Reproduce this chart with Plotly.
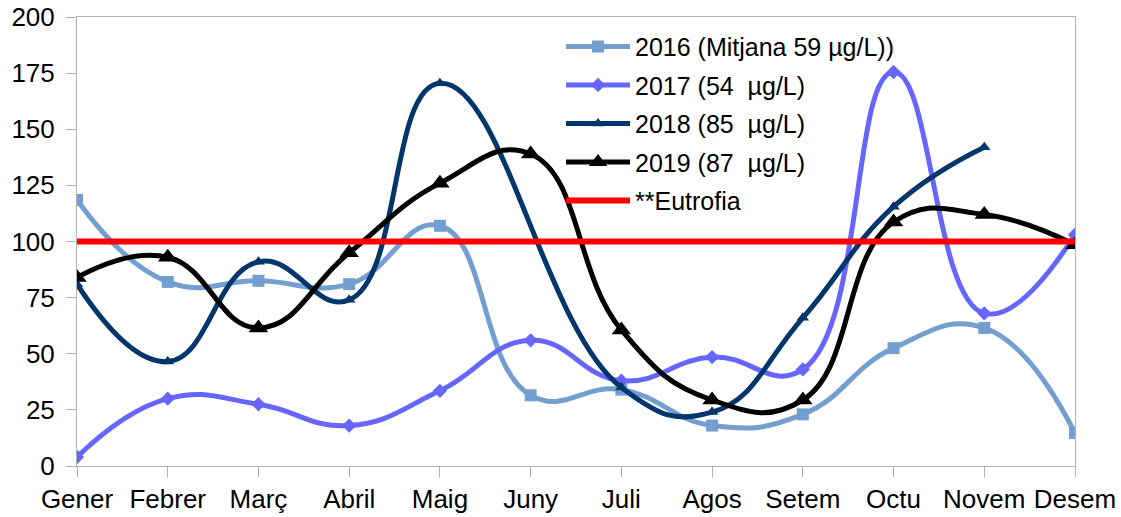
import plotly.graph_objects as go

months = ["Gener", "Febrer", "Març", "Abril", "Maig", "Juny", "Juli",
          "Agos", "Setem", "Octu", "Novem", "Desem"]

y2016 = [118.5, 82, 82.5, 81, 107, 31.5, 34, 18, 23, 52.5, 61.5, 14.7]
y2017 = [4, 30, 27.5, 18, 33.5, 56, 38, 48.5, 43, 175.5, 68, 103]
y2018 = [81, 46.5, 91, 74, 170.5, None, 35, 24, 66, 115.5, 142, None]
y2019 = [84, 93, 61.5, 95, 126, 139, 60.6, 29.4, 29.4, 108.7, 112, 98.5]
eutrofia = [100, 100, 100, 100, 100, 100, 100, 100, 100, 100, 100, 100]

names = ["2016 (Mitjana 59 µg/L))", "2017 (54  µg/L)", "2018 (85  µg/L)",
         "2019 (87  µg/L)", "**Eutrofia"]

FONT = "Liberation Sans, Arial, sans-serif"

fig = go.Figure()

series = [
    (y2016, names[0], "#729fcf", "square", 12),
    (y2017, names[1], "#6666ff", "diamond", 11),
    (y2018, names[2], "#00366b", "triangle-up", 11),
    (y2019, names[3], "#000000", "triangle-up", 17),
]
for i, (ys, nm, col, sym, sz) in enumerate(series):
    fig.add_trace(go.Scatter(
        x=months, y=ys, name=nm, mode="lines+markers",
        line=dict(color=col, width=5, shape="spline", smoothing=1.3),
        marker=dict(symbol=sym, size=sz, color=col),
        connectgaps=True, legendgroup=f"g{i}",
    ))

fig.add_trace(go.Scatter(
    x=months, y=eutrofia, name=names[4], mode="lines",
    line=dict(color="#ff0000", width=6), legendgroup="g4",
))

fig.update_layout(
    width=1121, height=517,
    margin=dict(l=77, r=46, t=17, b=51, autoexpand=False),
    paper_bgcolor="white", plot_bgcolor="white",
    font=dict(family=FONT, size=26, color="black"),
    showlegend=True,
    legend=dict(
        x=0.485, y=0.985, xanchor="left", yanchor="top",
        bgcolor="rgba(0,0,0,0)", font=dict(size=25),
        traceorder="grouped", tracegroupgap=3,
        itemwidth=64,
    ),
)
fig.update_xaxes(
    type="category", range=[0, 11], automargin=False,
    showgrid=False, showline=True, mirror=True,
    linecolor="#b3b3b3", linewidth=1,
    ticks="outside", ticklen=10, tickcolor="#b3b3b3",
    tickfont=dict(size=26), zeroline=False,
)
fig.update_yaxes(
    range=[0, 200], tickvals=[0, 25, 50, 75, 100, 125, 150, 175, 200],
    automargin=False,
    showgrid=False, showline=True, mirror=True,
    linecolor="#b3b3b3", linewidth=1,
    ticks="outside", ticklen=10, tickcolor="#b3b3b3",
    tickfont=dict(size=26), zeroline=False, ticklabelstandoff=6,
)

fig.write_html("out.html",
               config={"displayModeBar": False},
               post_script="document.body.style.margin='0px';document.body.style.overflow='hidden';")
